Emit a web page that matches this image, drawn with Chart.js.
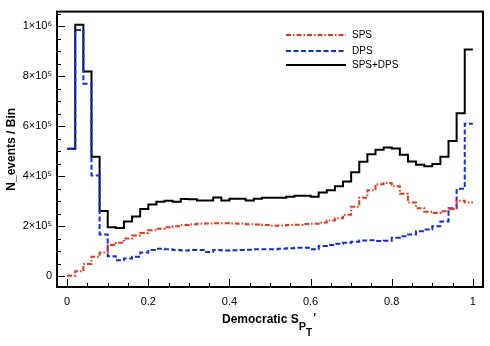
<!DOCTYPE html>
<html lang="en">
<head>
  <meta charset="UTF-8">
  <title>Democratic SpT' - SPS vs DPS</title>
  <style>
    body { margin:0; padding:0; background:#fff; }
    #chart { display:block; }
  </style>
</head>
<body>
  <canvas id="chart" width="490" height="346"></canvas>

  <script src="https://cdn.jsdelivr.net/npm/chart.js"></script>
  <script>
    // histogram: 50 bins of width 0.02 on [0,1], contents in units of 1e5 events
    const binLow = 0, binWidth = 0.02;
    const unit = 1e5;

    const sps = [0.02, 0.20, 0.49, 0.78, 0.95, 1.25, 1.34, 1.51, 1.63, 1.73,
                 1.84, 1.90, 1.96, 2.00, 2.05, 2.08, 2.10, 2.11, 2.12, 2.12,
                 2.11, 2.10, 2.08, 2.07, 2.05, 2.02, 2.03, 2.05, 2.06, 2.09,
                 2.10, 2.15, 2.23, 2.32, 2.46, 2.78, 3.14, 3.44, 3.68, 3.73,
                 3.60, 3.30, 2.95, 2.72, 2.58, 2.53, 2.60, 2.69, 3.02, 2.95];

    const dps = [5.10, 9.84, 7.70, 4.03, 1.67, 0.80, 0.64, 0.71, 0.78, 0.95,
                 1.05, 1.10, 1.08, 1.05, 1.03, 1.05, 1.05, 0.97, 1.05, 1.03,
                 1.04, 1.05, 1.06, 1.08, 1.08, 1.08, 1.10, 1.12, 1.14, 1.14,
                 1.08, 1.21, 1.25, 1.30, 1.34, 1.38, 1.43, 1.44, 1.41, 1.42,
                 1.54, 1.60, 1.67, 1.80, 1.87, 2.00, 2.19, 2.72, 3.50, 6.10];

    const total = [5.10, 10.05, 8.19, 4.78, 2.61, 1.96, 1.93, 2.19, 2.39, 2.69,
                   2.87, 2.98, 3.02, 2.98, 3.09, 3.08, 3.03, 3.03, 3.15, 3.03,
                   3.10, 3.10, 3.03, 3.10, 3.14, 3.14, 3.14, 3.18, 3.22, 3.22,
                   3.18, 3.35, 3.44, 3.60, 3.79, 4.16, 4.58, 4.88, 5.06, 5.15,
                   5.11, 4.86, 4.59, 4.46, 4.40, 4.49, 4.78, 5.41, 6.52, 9.06];

    const seriesNames = ['SPS', 'DPS', 'SPS+DPS'];
    const xTicks = [0, 0.2, 0.4, 0.6, 0.8, 1];
    const xTickLabels = ['0', '0.2', '0.4', '0.6', '0.8', '1'];
    const yTicks = [0, 200000, 400000, 600000, 800000, 1000000];
    const yTickLabels = ['0', '2\u00d710\u2075', '4\u00d710\u2075', '6\u00d710\u2075', '8\u00d710\u2075', '1\u00d710\u2076'];

    // ROOT-style step histogram: first low edge, then each bin's high edge carrying its content
    function toSteps(vals) {
      const pts = [{ x: binLow, y: vals[0] * unit }];
      vals.forEach((v, i) => pts.push({ x: binLow + (i + 1) * binWidth, y: v * unit }));
      return pts;
    }

    const FONT = "'Liberation Sans', Arial, Helvetica, sans-serif";

    // frame, inward ticks, axis titles and legend, drawn like ROOT
    const rootStyle = {
      id: 'rootStyle',
      afterDraw(chart) {
        const { ctx, chartArea: a, scales: { x, y } } = chart;
        ctx.save();
        ctx.strokeStyle = '#000';
        ctx.lineWidth = 1;
        // x ticks
        for (let v = 0; v <= 1.0001; v += 0.05) {
          const px = Math.round(x.getPixelForValue(v)) + 0.5;
          const major = Math.abs(v / 0.2 - Math.round(v / 0.2)) < 1e-6;
          ctx.beginPath();
          ctx.moveTo(px, a.bottom);
          ctx.lineTo(px, a.bottom - (major ? 8 : 4));
          ctx.stroke();
        }
        // y ticks
        for (let v = 0; v <= 1050000; v += 50000) {
          const py = Math.round(y.getPixelForValue(v)) + 0.5;
          const major = v % 200000 === 0;
          ctx.beginPath();
          ctx.moveTo(a.left, py);
          ctx.lineTo(a.left + (major ? 8 : 4), py);
          ctx.stroke();
        }
        // frame
        ctx.lineWidth = 2;
        ctx.strokeRect(a.left, a.top, a.right - a.left, a.bottom - a.top);

        // y title
        ctx.fillStyle = '#000';
        ctx.font = 'bold 12px ' + FONT;
        ctx.textAlign = 'center';
        ctx.textBaseline = 'middle';
        ctx.save();
        ctx.translate(12, (a.top + a.bottom) / 2);
        ctx.rotate(-Math.PI / 2);
        ctx.fillText('N_events / Bin', 0, 0);
        ctx.restore();

        // x title: Democratic S_{P_{T}}'
        ctx.textAlign = 'left';
        ctx.textBaseline = 'alphabetic';
        ctx.font = 'bold 12px ' + FONT;
        const main = 'Democratic S';
        let tx = 222;
        ctx.fillText(main, tx, 323);
        tx += ctx.measureText(main).width;
        ctx.font = 'bold 11px ' + FONT;
        ctx.fillText('P', tx, 330);
        tx += ctx.measureText('P').width;
        ctx.font = 'bold 10px ' + FONT;
        ctx.fillText('T', tx, 336);
        tx += ctx.measureText('T').width + 1;
        ctx.font = 'bold 12px ' + FONT;
        ctx.fillText("'", tx, 322);

        // legend
        const rows = [35, 51, 65];
        ctx.font = '10px ' + FONT;
        ctx.textBaseline = 'middle';
        chart.data.datasets.forEach((ds, i) => {
          ctx.strokeStyle = ds.borderColor;
          ctx.lineWidth = ds.borderWidth;
          ctx.setLineDash(ds.borderDash || []);
          ctx.beginPath();
          ctx.moveTo(286, rows[i]);
          ctx.lineTo(346, rows[i]);
          ctx.stroke();
          ctx.setLineDash([]);
          ctx.fillStyle = '#000';
          ctx.fillText(seriesNames[i], 352, rows[i]);
        });
        ctx.restore();
      }
    };

    // 'after' in Chart.js draws the vertical first, so each point's value covers the bin to its left
    const lineBase = { stepped: 'after', fill: false, pointRadius: 0, tension: 0, borderWidth: 2 };

    new Chart(document.getElementById('chart').getContext('2d'), {
      type: 'line',
      data: {
        datasets: [
          { ...lineBase, label: seriesNames[0], data: toSteps(sps), borderColor: '#ff3010', borderDash: [5, 2, 1.5, 2] },
          { ...lineBase, label: seriesNames[1], data: toSteps(dps), borderColor: '#0a2cff', borderDash: [5, 2.5] },
          { ...lineBase, label: seriesNames[2], data: toSteps(total), borderColor: '#000' }
        ]
      },
      options: {
        responsive: false,
        animation: false,
        devicePixelRatio: 1,
        layout: { padding: { top: 7, right: 7, left: 0, bottom: 0 } },
        plugins: { legend: { display: false }, tooltip: { enabled: false } },
        scales: {
          x: {
            type: 'linear', min: -0.025, max: 1.025,
            grid: { display: false, drawTicks: false },
            border: { display: false },
            afterBuildTicks: s => { s.ticks = xTicks.map(v => ({ value: v })); },
            ticks: {
              autoSkip: false, maxRotation: 0, padding: 8, color: '#000',
              font: { family: FONT, size: 11 },
              callback: (v, i) => xTickLabels[i]
            },
            afterFit: s => { s.height = 59; }
          },
          y: {
            type: 'linear', min: -43000, max: 1058000,
            grid: { display: false, drawTicks: false },
            border: { display: false },
            afterBuildTicks: s => { s.ticks = yTicks.map(v => ({ value: v })); },
            ticks: {
              autoSkip: false, padding: 5, color: '#000',
              font: { family: FONT, size: 11 },
              callback: (v, i) => yTickLabels[i]
            },
            afterFit: s => { s.width = 57; }
          }
        }
      },
      plugins: [rootStyle]
    });
  </script>
</body>
</html>
